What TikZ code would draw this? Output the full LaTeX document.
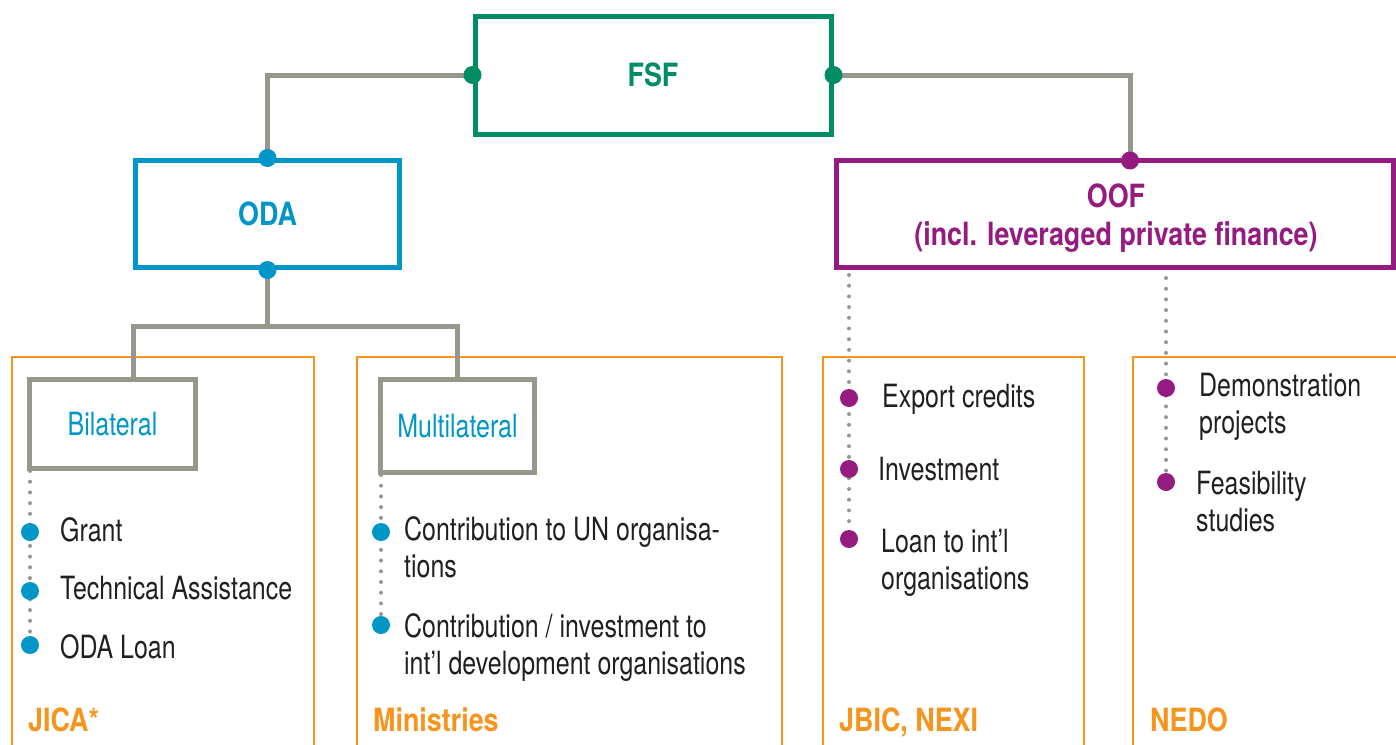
\documentclass[tikz,border=0pt]{standalone}
\usepackage{fontspec}
\setmainfont[FakeStretch=0.78]{TeX Gyre Heros}
\newfontfamily\headfont[FakeStretch=0.84]{TeX Gyre Heros}

\definecolor{fsfgreen}{HTML}{008C64}
\definecolor{odablue}{HTML}{0096C8}
\definecolor{oofpurple}{HTML}{951B81}
\definecolor{grouporange}{HTML}{F7941D}
\definecolor{linkgray}{HTML}{97978D}
\definecolor{textdark}{HTML}{231F20}

\tikzset{
  box/.style={draw, line width=5pt, fill=white, inner sep=0pt, align=center,
    font=\headfont\bfseries\fontsize{32}{38}\selectfont},
  subbox/.style={draw=linkgray, line width=5pt, fill=white, inner sep=0pt, text=odablue,
    font=\fontsize{32}{38}\selectfont},
  group/.style={draw=grouporange, line width=1.5pt},
  link/.style={draw=linkgray, line width=5pt},
  dotline/.style={draw=linkgray, line width=4pt, line cap=round, dash pattern=on 0pt off 10.7pt},
  knob/.style={circle, fill=#1, inner sep=0pt, minimum size=18pt},
  item/.style={anchor=base west, text=textdark, align=left, inner sep=0pt,
    font=\fontsize{32}{37}\selectfont},
  agency/.style={anchor=base west, text=grouporange, inner sep=0pt,
    font=\headfont\bfseries\fontsize{32}{38}\selectfont},
}

\begin{document}
\begin{tikzpicture}[x=1pt,y=-1pt]
  %%%%% START %%%%%
  \clip (0,0) rectangle (1396,744);

  % orange groups
  \draw[group] (12,357) rectangle (314,760);
  \draw[group] (357,357) rectangle (782,760);
  \draw[group] (823,357) rectangle (1084,760);
  \draw[group] (1133,357) rectangle (1420,760);

  % boxes
  \node[box, draw=fsfgreen, text=fsfgreen, minimum width=356pt, minimum height=118pt] (fsf) at (653,75) {FSF};
  \node[box, draw=oofpurple, text=oofpurple, minimum width=557pt, minimum height=107pt] (oof) at (1114.5,214) {};
  \node[box, draw=odablue, text=odablue, minimum width=264pt, minimum height=107pt] (oda) at (267.5,214) {ODA};
  \node[subbox, minimum width=166pt, minimum height=89pt] (bil) at (112.5,424) {Bilateral};
  \node[subbox, minimum width=154pt, minimum height=93pt] (mul) at (457.5,426) {Multilateral};
  \node[box, draw=none, fill=none, text=oofpurple, anchor=base] (ooftext) at (1116,245) {OOF\\(incl. leveraged private finance)};

  % links
  \coordinate (oofin) at (1130,160.5);
  \coordinate (split) at (267.5,326);
  \coordinate (biltop) at (133,379.5);
  \draw[link] (fsf.west) -| (oda.north);
  \draw[link] (fsf.east) -| (oofin);
  \draw[link] (oda.south) -- (split);
  \draw[link] (biltop) |- (split) -| (mul.north);

  % item points
  \coordinate (grant) at (30,532);
  \coordinate (techass) at (30,591);
  \coordinate (odaloan) at (30,645);
  \coordinate (uncontrib) at (381,532);
  \coordinate (devcontrib) at (381,625);
  \coordinate (export) at (849,398);
  \coordinate (invest) at (849,469);
  \coordinate (intlloan) at (849,539);
  \coordinate (demo) at (1166,388);
  \coordinate (feasib) at (1166,482);

  \draw[dotline] (bil.south -| grant) -- (odaloan);
  \draw[dotline] (mul.south -| uncontrib) -- (devcontrib);
  \draw[dotline] (oof.south -| export) ++(0,5) -- (intlloan);
  \draw[dotline] (oof.south -| demo) ++(0,8) -- (feasib);

  % knobs
  \node[knob=fsfgreen] at (fsf.west) {};
  \node[knob=fsfgreen] at (fsf.east) {};
  \node[knob=odablue] at (oda.north) {};
  \node[knob=odablue] at (oda.south) {};
  \node[knob=oofpurple] at (oofin) {};
  \foreach \p in {grant,techass,odaloan,uncontrib,devcontrib}
    \node[knob=odablue] at (\p) {};
  \foreach \p in {export,invest,intlloan,demo,feasib}
    \node[knob=oofpurple] at (\p) {};

  % texts (base = last line)
  \node[item] (tgrant) at (60,541) {Grant};
  \node[item] (ttechass) at (60,599) {Technical Assistance};
  \node[item] (todaloan) at (60,658) {ODA Loan};
  \node[item] (tuncontrib) at (404,577) {Contribution to UN organisa-\\tions};
  \node[item] (tdevcontrib) at (404,674) {Contribution / investment to\\int’l development organisations};
  \node[item] (texport) at (882,407) {Export credits};
  \node[item] (tinvest) at (878,480) {Investment};
  \node[item] (tintlloan) at (881,589) {Loan to int’l\\organisations};
  \node[item] (tdemo) at (1199,433) {Demonstration\\projects};
  \node[item] (tfeasib) at (1196,531) {Feasibility\\studies};

  \node[agency] (jica) at (28,731) {JICA*};
  \node[agency] (ministries) at (373,731) {Ministries};
  \node[agency] (jbic) at (839,731) {JBIC, NEXI};
  \node[agency] (nedo) at (1150,731) {NEDO};
  %%%%% END %%%%%
\end{tikzpicture}
\end{document}
